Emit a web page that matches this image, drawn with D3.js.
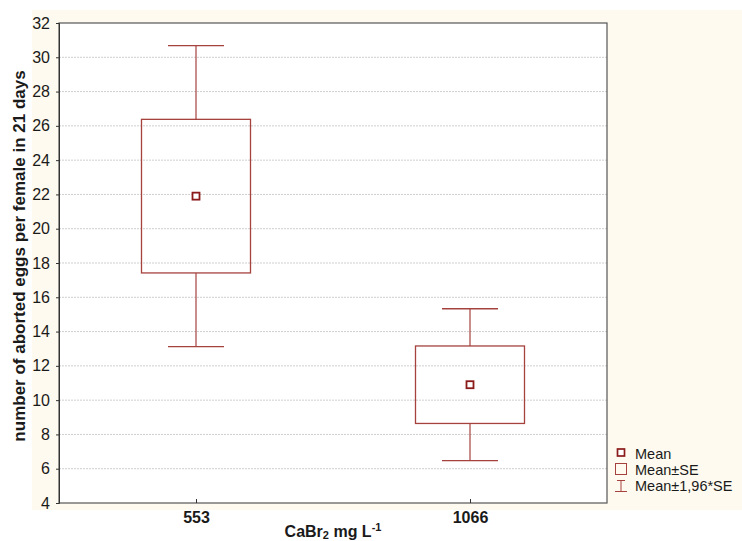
<!DOCTYPE html>
<html><head><meta charset="utf-8">
<script src="https://cdn.jsdelivr.net/npm/d3@7"></script>
<style>body{margin:0;background:#fff;} svg{display:block;font-family:Arial,"Liberation Sans",sans-serif;}</style>
</head><body>
<svg id="c" width="742" height="541"></svg>
<script>
const categories = ["553", "1066"];
const means = [21.9, 10.9];
const se = [4.48, 2.26];
const yTicks = [4,6,8,10,12,14,16,18,20,22,24,26,28,30,32];
const legendLabels = ["Mean", "Mean±SE", "Mean±1,96*SE"];

const W = 742, H = 541;
const m = {l: 59, r: 135, t: 23, b: 38};
const svg = d3.select("#c");
const boxCol = "#a5423e", meanCol = "#8b1a1a";

svg.append("rect").attr("x",32).attr("y",10).attr("width",W-32).attr("height",500).attr("fill","#fffaef");

const x = d3.scalePoint().domain(categories).range([m.l, W-m.r]).padding(0.5);
const y = d3.scaleLinear().domain([4,32]).range([H-m.b, m.t]);
const pw = W-m.r-m.l, ph = H-m.b-m.t;

svg.append("rect").attr("x",m.l).attr("y",m.t).attr("width",pw).attr("height",ph).attr("fill","#fff");

// grid
svg.append("g").selectAll("line").data(yTicks.filter(d=>d>4&&d<32)).join("line")
  .attr("x1",m.l).attr("x2",m.l+pw).attr("y1",d=>y(d)).attr("y2",d=>y(d))
  .attr("stroke","#cfcfcf").attr("stroke-dasharray","2,1").attr("stroke-width",1);

// boxes
const g = svg.append("g");
categories.forEach((c,i)=>{
  const cx = x(c), mu = means[i], s = se[i];
  const bw = 109, cw = 56;
  g.append("line").attr("x1",cx).attr("x2",cx).attr("y1",y(mu+1.96*s)).attr("y2",y(mu+s)).attr("stroke",boxCol).attr("stroke-width",1.2);
  g.append("line").attr("x1",cx).attr("x2",cx).attr("y1",y(mu-s)).attr("y2",y(mu-1.96*s)).attr("stroke",boxCol).attr("stroke-width",1.2);
  g.append("line").attr("x1",cx-cw/2).attr("x2",cx+cw/2).attr("y1",y(mu+1.96*s)).attr("y2",y(mu+1.96*s)).attr("stroke",boxCol).attr("stroke-width",1.4);
  g.append("line").attr("x1",cx-cw/2).attr("x2",cx+cw/2).attr("y1",y(mu-1.96*s)).attr("y2",y(mu-1.96*s)).attr("stroke",boxCol).attr("stroke-width",1.4);
  g.append("rect").attr("x",cx-bw/2).attr("y",y(mu+s)).attr("width",bw).attr("height",y(mu-s)-y(mu+s))
    .attr("fill","none").attr("stroke",boxCol).attr("stroke-width",1.3);
  g.append("rect").attr("x",cx-3.5).attr("y",y(mu)-3.5).attr("width",7).attr("height",7)
    .attr("fill","#fff").attr("stroke",meanCol).attr("stroke-width",1.8);
});

// frame
svg.append("rect").attr("x",m.l).attr("y",m.t).attr("width",pw).attr("height",ph).attr("fill","none").attr("stroke","#555").attr("stroke-width",1.2);

// y axis
const ya = svg.append("g").attr("transform",`translate(${m.l},0)`)
  .call(d3.axisLeft(y).tickValues(yTicks).tickSize(3).tickPadding(6).tickFormat(d3.format("d")));
ya.select(".domain").attr("stroke","#333");
ya.selectAll(".tick line").attr("stroke","#333");
ya.selectAll("text").attr("font-size",16).attr("fill","#1a1a1a").attr("font-family","Arial,'Liberation Sans',sans-serif");

// x axis
const xa = svg.append("g").attr("transform",`translate(0,${H-m.b})`)
  .call(d3.axisBottom(x).tickSize(-4).tickPadding(9));
xa.select(".domain").remove();
xa.selectAll(".tick line").attr("stroke","#333");
xa.selectAll("text").attr("font-size",16).attr("font-weight","bold").attr("fill","#1a1a1a").attr("font-family","Arial,'Liberation Sans',sans-serif");

// axis titles
svg.append("text").attr("transform","translate(25,256) rotate(-90)").attr("text-anchor","middle")
  .attr("font-size",17).attr("font-weight","bold").attr("fill","#1a1a1a")
  .text("number of aborted eggs per female in 21 days");
const xt = svg.append("text").attr("x",(m.l+W-m.r)/2).attr("y",537).attr("text-anchor","middle")
  .attr("font-size",16).attr("font-weight","bold").attr("fill","#1a1a1a");
xt.append("tspan").text("CaBr");
xt.append("tspan").attr("font-size",11).attr("dy",2).text("2");
xt.append("tspan").attr("dy",-2).text(" mg L");
xt.append("tspan").attr("font-size",11).attr("dy",-6).text("-1");

// legend
const lg = svg.append("g").attr("transform","translate(615,0)");
lg.append("rect").attr("x",2.5).attr("y",449).attr("width",7).attr("height",7).attr("fill","#fff").attr("stroke",meanCol).attr("stroke-width",1.7);
lg.append("rect").attr("x",0.5).attr("y",463.5).attr("width",11).attr("height",11).attr("fill","none").attr("stroke",boxCol).attr("stroke-width",1);
lg.append("line").attr("x1",6).attr("x2",6).attr("y1",480).attr("y2",491.5).attr("stroke",boxCol);
lg.append("line").attr("x1",2).attr("x2",10).attr("y1",480.5).attr("y2",480.5).attr("stroke",boxCol);
lg.append("line").attr("x1",0).attr("x2",12).attr("y1",491.5).attr("y2",491.5).attr("stroke",boxCol);
lg.selectAll("text").data(legendLabels).join("text")
  .attr("x",20).attr("y",(d,i)=>459+i*16).attr("font-size",14.5).attr("fill","#1a1a1a").text(d=>d);
</script>
</body></html>
